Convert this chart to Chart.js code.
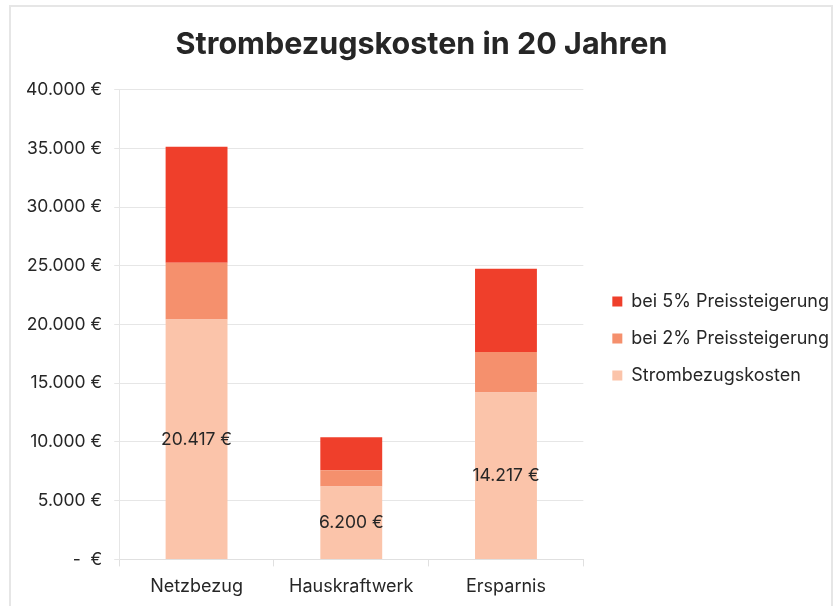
<!DOCTYPE html>
<html>
<head>
<meta charset="utf-8">
<script src="https://cdn.jsdelivr.net/npm/chart.js@4/dist/chart.umd.min.js"></script>
<style>
  body { margin: 0; background: #fff; }
  #frame { position: absolute; left: 9px; top: 5px; width: 820px; height: 620px; border: 2px solid #e6e6e6; }
  #wrap { position: absolute; left: 0; top: 0; width: 840px; height: 606px; }
</style>
</head>
<body>
<div id="frame"></div>
<div id="wrap"><canvas id="chart"></canvas></div>
<script>
const categories = ["Netzbezug", "Hauskraftwerk", "Ersparnis"];
const baseCosts = [20417, 6200, 14217];
const extra2 = [4830, 1390, 3440];
const extra5 = [9890, 2810, 7080];
const seriesNames = ["Strombezugskosten", "bei 2% Preissteigerung", "bei 5% Preissteigerung"];
const seriesColors = ["#fbc4aa", "#f5906d", "#ef3f2b"];

function euro(v) {
    if (v === 0) return "-  €";
    return String(Math.round(v)).replace(/\B(?=(\d{3})+(?!\d))/g, ".") + " €";
}

const fontName = "Inter";
const textSize = 17.5;
Chart.defaults.font.family = fontName;
Chart.defaults.color = "#404040";

// Beschriftung nur im untersten Segment, mittig
const labelPlugin = {
    id: "baseLabels",
    afterDatasetsDraw(chart) {
        const ctx = chart.ctx;
        const meta = chart.getDatasetMeta(0);
        ctx.save();
        ctx.font = textSize + "px " + fontName;
        ctx.fillStyle = "#262626";
        ctx.textAlign = "center";
        ctx.textBaseline = "middle";
        meta.data.forEach((bar, i) => {
            ctx.fillText(euro(baseCosts[i]), bar.x, (bar.y + bar.base) / 2);
        });
        ctx.restore();
    }
};

// Legende etwas nach rechts unten schieben, wie im Original
const legendShift = {
    id: "legendShift",
    afterLayout(chart) {
        const lg = chart.legend;
        lg.left += 10; lg.right += 10;
        lg.top += 22; lg.bottom += 22;
    }
};

const ctx = document.getElementById("chart").getContext("2d");
new Chart(ctx, {
    type: "bar",
    data: {
        labels: categories,
        datasets: [
            { label: seriesNames[0], data: baseCosts, backgroundColor: seriesColors[0] },
            { label: seriesNames[1], data: extra2, backgroundColor: seriesColors[1] },
            { label: seriesNames[2], data: extra5, backgroundColor: seriesColors[2] }
        ]
    },
    options: {
        responsive: true,
        maintainAspectRatio: false,
        animation: false,
        datasets: { bar: { barPercentage: 0.4, categoryPercentage: 1.0 } },
        layout: { padding: { left: 14, right: 11, top: 27, bottom: 0 } },
        plugins: {
            title: {
                display: true,
                text: "Strombezugskosten in 20 Jahren",
                color: "#262626",
                font: { size: 30.5, weight: "bold" },
                padding: { top: 0, bottom: 26 }
            },
            legend: {
                position: "right",
                reverse: true,
                maxWidth: 300,
                labels: {
                    boxWidth: 10,
                    boxHeight: 10,
                    padding: 19,
                    color: "#262626",
                    font: { size: 18 }
                }
            },
            tooltip: { enabled: false }
        },
        scales: {
            x: {
                stacked: true,
                grid: { drawOnChartArea: false, color: "#e0e0e0", tickLength: 7 },
                border: { color: "#e0e0e0" },
                ticks: { font: { size: 18 }, color: "#262626", padding: 9 }
            },
            y: {
                stacked: true,
                min: 0,
                max: 40000,
                grid: { color: "#e6e6e6", tickLength: 5 },
                border: { color: "#e6e6e6" },
                ticks: {
                    stepSize: 5000,
                    font: { size: textSize },
                    color: "#262626",
                    padding: 12,
                    callback: (v) => euro(v)
                }
            }
        }
    },
    plugins: [labelPlugin, legendShift]
});
</script>
</body>
</html>
